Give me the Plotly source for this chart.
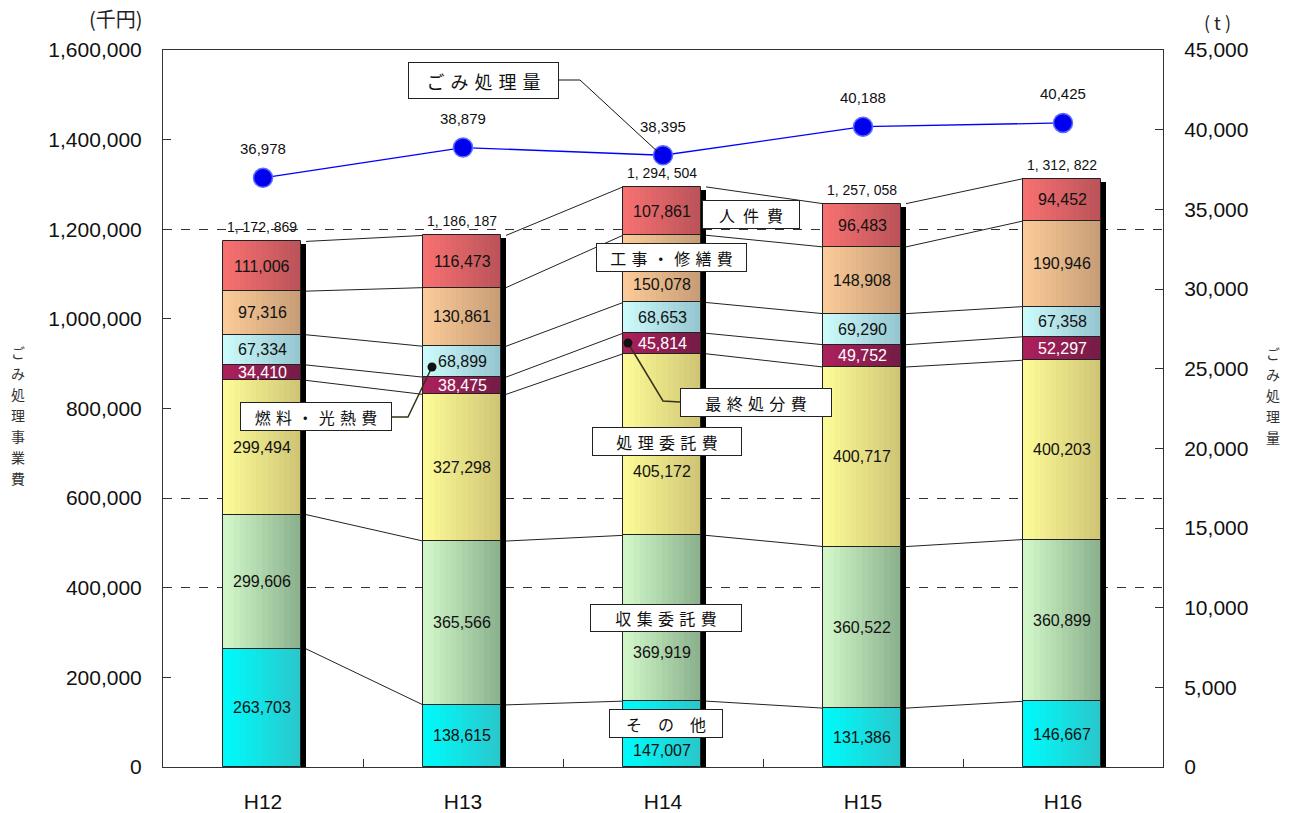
import plotly.graph_objects as go

# ---- data -------------------------------------------------------------
years = ["H12", "H13", "H14", "H15", "H16"]

sonota = [263703, 138615, 147007, 131386, 146667]          # その他
shushu_itaku = [299606, 365566, 369919, 360522, 360899]    # 収集委託費
shori_itaku = [299494, 327298, 405172, 400717, 400203]     # 処理委託費
saishu_shobun = [34410, 38475, 45814, 49752, 52297]        # 最終処分費
nenryo_konetsu = [67334, 68899, 68653, 69290, 67358]       # 燃料・光熱費
koji_shuzen = [97316, 130861, 150078, 148908, 190946]      # 工事・修繕費
jinken = [111006, 116473, 107861, 96483, 94452]            # 人件費

gomi_ryo = [36978, 38879, 38395, 40188, 40425]             # ごみ処理量 (t)

y_ticks = list(range(0, 1600001, 200000))
grid_values = [400000, 600000, 1200000]

# ---- styling ----------------------------------------------------------
# (values, left colour, right colour, label colour), bottom to top
segments = [
    (sonota, (0, 250, 250), (40, 200, 205), "#111"),
    (shushu_itaku, (208, 246, 200), (140, 178, 142), "#111"),
    (shori_itaku, (252, 250, 150), (208, 198, 118), "#111"),
    (saishu_shobun, (172, 32, 92), (118, 28, 70), "#fff"),
    (nenryo_konetsu, (202, 250, 250), (150, 198, 208), "#111"),
    (koji_shuzen, (250, 202, 152), (200, 158, 118), "#111"),
    (jinken, (246, 112, 112), (188, 84, 90), "#111"),
]

# label nudges (pixels) where a callout box sits over the bar
label_shift = {(0, 2): -16, (1, 2): -34, (2, 2): -27, (5, 2): -16}

NUM_FONT = "Liberation Sans, Arial, sans-serif"
JP_FONT = "Noto Sans CJK JP, sans-serif"

W, H = 1295, 813
PL, PR, PT, PB = 163, 1163, 50, 767
Y_MAX = 1600000
BAR_OFF, BAR_W = -0.2, 0.39
SHADOW_W = 0.025
N_STRIPS = 14


def px(x):
    return (x - PL) / (PR - PL)


def py(y):
    return (PB - y) / (PB - PT)


def mix(c1, c2, t):
    return "rgb({},{},{})".format(*[round(a + (b - a) * t) for a, b in zip(c1, c2)])


xs = list(range(len(years)))
fig = go.Figure()

# cumulative bases
bases = []
running = [0] * len(years)
for vals, *_ in segments:
    bases.append(list(running))
    running = [r + v for r, v in zip(running, vals)]
totals = running

# gradient-filled stacked segments (vertical strips)
step = BAR_W / N_STRIPS
for idx, (vals, cl, cr, _) in enumerate(segments):
    for k in range(N_STRIPS):
        t = k / (N_STRIPS - 1)
        wk = step * (1.25 if k < N_STRIPS - 1 else 1.0)
        fig.add_trace(go.Bar(
            x=xs, y=vals, base=bases[idx],
            offset=BAR_OFF + k * step, width=wk,
            marker=dict(color=mix(cl, cr, t), line=dict(width=0)),
            showlegend=False, hoverinfo="skip",
        ))

# segment outlines
for i, (vals, *_) in enumerate(segments):
    fig.add_trace(go.Bar(
        x=xs, y=vals, base=bases[i], offset=BAR_OFF, width=BAR_W,
        marker=dict(color="rgba(0,0,0,0)", line=dict(color="#222", width=1)),
        showlegend=False, hoverinfo="skip",
    ))

# bar shadow on the right side
drop = 3 * Y_MAX / (PB - PT)
fig.add_trace(go.Bar(
    x=xs, y=[t - drop for t in totals], base=[0] * len(xs),
    offset=BAR_OFF + BAR_W, width=SHADOW_W,
    marker=dict(color="#000", line=dict(width=0)),
    showlegend=False, hoverinfo="skip",
))

# series lines joining segment boundaries between bars
x_start = BAR_OFF + BAR_W + SHADOW_W
levels = [[b[j] for b in bases[1:]] + [totals[j]] for j in range(len(xs))]
for lvl in range(len(segments)):
    lx, ly = [], []
    for j in range(len(xs) - 1):
        lx += [xs[j] + x_start, xs[j + 1] + BAR_OFF, None]
        ly += [levels[j][lvl], levels[j + 1][lvl], None]
    fig.add_trace(go.Scatter(
        x=lx, y=ly, mode="lines", line=dict(color="#222", width=1),
        showlegend=False, hoverinfo="skip",
    ))

# ごみ処理量 line on secondary axis
fig.add_trace(go.Scatter(
    x=xs, y=gomi_ryo, yaxis="y2", mode="lines+markers",
    line=dict(color="#0000ff", width=1.3),
    marker=dict(size=19, color="#0000ee", line=dict(color="#5a6cff", width=1.5)),
    showlegend=False, hoverinfo="skip",
))

annotations = []
bar_center = BAR_OFF + BAR_W / 2

# segment value labels
for i, (vals, _, _, tc) in enumerate(segments):
    for j, v in enumerate(vals):
        annotations.append(dict(
            x=xs[j] + bar_center, y=bases[i][j] + v / 2, xref="x", yref="y",
            text=f"{v:,}", showarrow=False, yshift=label_shift.get((i, j), 0),
            font=dict(family=NUM_FONT, size=16, color=tc),
        ))

# totals above bars
for j, t in enumerate(totals):
    annotations.append(dict(
        x=xs[j] + bar_center, y=t, xref="x", yref="y",
        text=f"{t:,}".replace(",", ", "), showarrow=False, yshift=14,
        font=dict(family=NUM_FONT, size=14, color="#111"),
    ))

# line values
for j, v in enumerate(gomi_ryo):
    annotations.append(dict(
        x=xs[j], y=v, xref="x", yref="y2", text=f"{v:,}", showarrow=False,
        yshift=29, font=dict(family=NUM_FONT, size=15, color="#111"),
    ))

# callout boxes: (text, x0, y0, x1, y1, font size)
callouts = [
    ("ご\u2004み\u2004処\u2004理\u2004量", 408, 62, 559, 99, 18),
    ("人\u2002件\u2002費", 702, 200, 800, 229, 16),
    ("工\u2004事\u2004・\u2004修\u2004繕\u2004費", 596, 243, 747, 272, 16),
    ("最\u2004終\u2004処\u2004分\u2004費", 680, 388, 832, 417, 16),
    ("処\u2004理\u2004委\u2004託\u2004費", 592, 427, 742, 456, 16),
    ("燃\u2004料\u2004・\u2004光\u2004熱\u2004費", 240, 402, 392, 431, 16),
    ("収\u2004集\u2004委\u2004託\u2004費", 590, 604, 742, 632, 16),
    ("そ\u3000の\u3000他", 609, 709, 723, 738, 16),
]
for txt, x0, y0, x1, y1, fs in callouts:
    annotations.append(dict(
        x=px((x0 + x1) / 2), y=py((y0 + y1) / 2), xref="paper", yref="paper",
        xanchor="center", yanchor="middle", text=txt, showarrow=False,
        width=x1 - x0 - 2, height=y1 - y0 - 2, borderpad=0,
        bordercolor="#222", borderwidth=1, bgcolor="#fff",
        font=dict(family=JP_FONT, size=fs, color="#111"),
    ))

# unit labels
plain = dict(xref="paper", yref="paper", xanchor="center", yanchor="middle",
             showarrow=False)
annotations += [
    dict(x=px(116), y=py(19), text="(千円)",
         font=dict(family=JP_FONT, size=20, color="#222"), **plain),
    dict(x=px(1217), y=py(22), text="( t )",
         font=dict(family=JP_FONT, size=18, color="#222"), **plain),
]

# vertical axis titles, one upright character per row
PITCH = 21
for title, cx, top in [("ごみ処理事業費", 18, 352), ("ごみ処理量", 1273, 353)]:
    for n, ch in enumerate(title):
        annotations.append(dict(
            x=px(cx), y=py(top + n * PITCH), text=ch, height=18,
            font=dict(family=JP_FONT, size=14, color="#333"), **plain))

# leader lines for callouts
def path(points):
    return "M " + " L ".join(f"{px(a)},{py(b)}" for a, b in points)


shapes = [
    dict(type="path", xref="paper", yref="paper",
         path=path([(559, 80), (580, 80), (659, 153)]),
         line=dict(color="#111", width=1)),
    dict(type="path", xref="paper", yref="paper",
         path=path([(628, 343), (663, 401), (680, 402)]),
         line=dict(color="#333318", width=1.5)),
    dict(type="path", xref="paper", yref="paper",
         path=path([(432, 367), (408, 417), (392, 417)]),
         line=dict(color="#333318", width=1.5)),
]
for cx, cy in [(628, 343), (432, 367)]:
    shapes.append(dict(type="circle", xref="paper", yref="paper",
                       x0=px(cx - 4.5), x1=px(cx + 4.5), y0=py(cy + 4.5), y1=py(cy - 4.5),
                       fillcolor="#111", line=dict(width=0)))

fig.update_layout(
    width=W, height=H, autosize=False,
    margin=dict(l=PL, r=W - PR, t=PT, b=H - PB, pad=0, autoexpand=False),
    paper_bgcolor="#fff", plot_bgcolor="#fff",
    barmode="overlay", bargap=0,
    xaxis=dict(
        range=[-0.5, len(years) - 0.5], tickvals=xs, ticktext=years, ticks="",
        showline=True, linecolor="#333", linewidth=1, mirror=True,
        showgrid=False, zeroline=False, ticklabelstandoff=16, automargin=False,
        tickfont=dict(family=NUM_FONT, size=21, color="#111"),
        minor=dict(tickvals=[x + 0.5 for x in xs[:-1]], ticks="inside",
                   ticklen=8, tickcolor="#333", showgrid=False),
    ),
    yaxis=dict(
        range=[0, Y_MAX], tickvals=y_ticks, tickformat=",", ticks="inside",
        ticklen=8, tickcolor="#333", showline=True, linecolor="#333",
        showgrid=False, zeroline=False, ticklabelstandoff=16, automargin=False,
        tickfont=dict(family=NUM_FONT, size=21, color="#111"),
        minor=dict(tickvals=grid_values, ticks="", showgrid=True,
                   gridcolor="#333", griddash="dash", gridwidth=1),
    ),
    yaxis2=dict(
        overlaying="y", side="right", range=[0, 45000], tick0=0, dtick=5000,
        tickformat=",", ticks="inside", ticklen=8, tickcolor="#333",
        showline=True, linecolor="#333", showgrid=False, zeroline=False,
        ticklabelstandoff=16, automargin=False,
        tickfont=dict(family=NUM_FONT, size=21, color="#111"),
    ),
    annotations=annotations,
    shapes=shapes,
    showlegend=False,
)

fig.write_html("out.html")
